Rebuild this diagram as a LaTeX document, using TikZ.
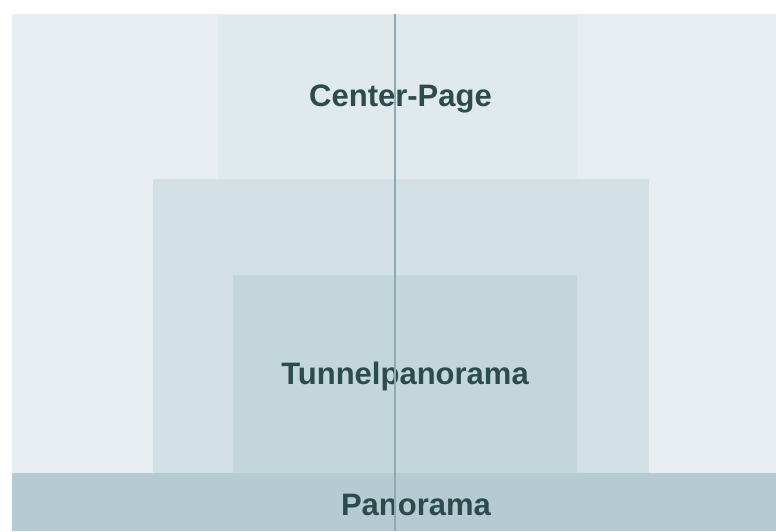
\documentclass[tikz,border=0pt]{standalone}
\usepackage{fontspec}
\setmainfont{Liberation Sans}
\usepackage{tikz}

\definecolor{panelbg}{HTML}{E7EDF0}
\definecolor{centerbg}{HTML}{E0E9EC}
\definecolor{tunnelout}{HTML}{D2DFE4}
\definecolor{tunnelin}{HTML}{C3D6DA}
\definecolor{panobg}{HTML}{B5CAD1}
\definecolor{labeltext}{HTML}{2B4B4C}
\definecolor{axisline}{HTML}{8EAAB2}

\tikzset{
	zonelabel/.style={anchor=base, inner sep=0pt, text=labeltext, font=\fontsize{31}{31}\selectfont\bfseries},
	axis/.style={draw=axisline, line width=1.5pt}
}

\begin{document}
\begin{tikzpicture}[x=1pt, y=-1pt]
	\useasboundingbox (0,0) rectangle (776,531);
	
	\fill[white] (0,0) rectangle (776,531);
	\fill[panelbg] (12,14) rectangle (776,531);
	\fill[centerbg] (218,15) rectangle (577,180);
	\fill[tunnelout] (153,179) rectangle (649,473);
	\fill[tunnelin] (233,275) rectangle (577,473);
	\fill[panobg] (12,473) rectangle (776,531);
	
	\node[zonelabel] (center) at (400.5,106) {Center-Page};
	\node[zonelabel] (tunnel) at (405,384)   {Tunnelpanorama};
	\node[zonelabel] (pano)   at (416,515)   {Panorama};
	
	\coordinate (top) at (395,14);
	\coordinate (bottom) at (395,531);
	\path[axis] (top) -- (bottom);
	
\end{tikzpicture}
\end{document}
